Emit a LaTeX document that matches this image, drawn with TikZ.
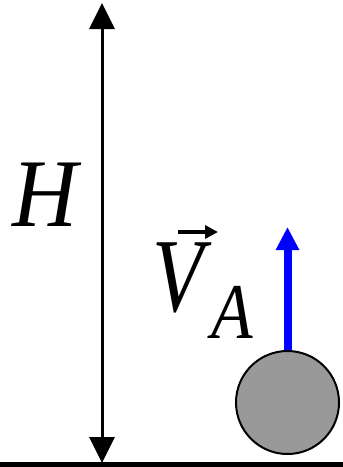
\documentclass[tikz,border=0pt]{standalone}
\usepackage{fontspec}
\setmainfont{Liberation Serif}
\newfontfamily\itfont{Liberation Serif Italic}
\usetikzlibrary{arrows.meta}
\begin{document}
\begin{tikzpicture}[x=1pt,y=-1pt,
  lbl/.style={inner sep=0pt,anchor=base},
  dimarrow/.style={line width=3pt,{Triangle[length=26pt,width=25pt]}-{Triangle[length=26pt,width=25pt]}},
  velarrow/.style={line width=8pt,blue,-{Triangle[length=23pt,width=22pt]}},
  vecarrow/.style={line width=3.5pt,-{Triangle[length=13pt,width=13pt]}}]
\useasboundingbox (0,0) rectangle (343,467);
% ground
\coordinate (gl) at (0,464.5);
\coordinate (gr) at (343,464.5);
\draw[line width=5pt] (gl) -- (gr);
% height arrow
\coordinate (htop) at (102,3);
\coordinate (hbot) at (102,463);
\draw[dimarrow] (hbot) -- (htop);
\node[lbl,font=\itfont\fontsize{97}{97}\selectfont] (H) at (45,226) {\scalebox{0.93}[1]{H}};
% ball
\node[circle,draw=black,line width=2pt,fill=black!40,minimum size=103pt,inner sep=0pt] (ball) at (287.5,402.5) {};
\coordinate (vtip) at (287.5,227);
\draw[velarrow] (ball.north) -- (vtip);
% label V_A
\node[lbl,font=\itfont\fontsize{105}{105}\selectfont] (V) at (178,311) {\scalebox{0.8}[1]{V}};
\node[lbl,font=\itfont\fontsize{79}{79}\selectfont] (A) at (232,338) {\scalebox{0.86}[1]{A}};
\coordinate (va1) at (178,232);
\coordinate (va2) at (218,232);
\draw[vecarrow] (va1) -- (va2);
\end{tikzpicture}
\end{document}
